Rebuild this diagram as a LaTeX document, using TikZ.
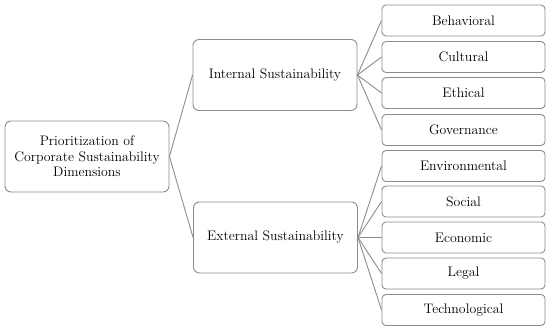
\documentclass[tikz,border=0pt]{standalone}
\begin{document}
\begin{tikzpicture}[x=1pt,y=-1pt,
  box/.style={draw=black!45,line width=0.9pt,rounded corners=6pt,align=center,inner sep=0pt,font=\fontsize{13.8}{15.5}\selectfont},
  bigbox/.style={box,minimum width=164pt,minimum height=71pt},
  leaf/.style={box,rounded corners=4pt,minimum width=163pt,minimum height=31pt},
  link/.style={draw=black!45,line width=0.9pt}]
\useasboundingbox (0,0) rectangle (550,331);
\node[bigbox] (root) at (87,156.5) {Prioritization of\\Corporate Sustainability\\Dimensions};
\node[bigbox] (int) at (275,75) {Internal Sustainability};
\node[bigbox] (ext) at (275.5,237.5) {External Sustainability};
\node[leaf] (l1) at (463.5,20.5) {Behavioral};
\node[leaf] (l2) at (463.5,57) {Cultural};
\node[leaf] (l3) at (463.5,93) {Ethical};
\node[leaf] (l4) at (463.5,130) {Governance};
\node[leaf] (l5) at (463.5,166) {Environmental};
\node[leaf] (l6) at (463.5,201.5) {Social};
\node[leaf] (l7) at (463.5,237.5) {Economic};
\node[leaf] (l8) at (463.5,273.5) {Legal};
\node[leaf] (l9) at (463.5,310) {Technological};
\draw[link] (root.east) -- (int.west);
\draw[link] (root.east) -- (ext.west);
\foreach \l in {l1,l2,l3,l4} \draw[link] (int.east) -- (\l.west);
\foreach \l in {l5,l6,l7,l8,l9} \draw[link] (ext.east) -- (\l.west);
\end{tikzpicture}
\end{document}
